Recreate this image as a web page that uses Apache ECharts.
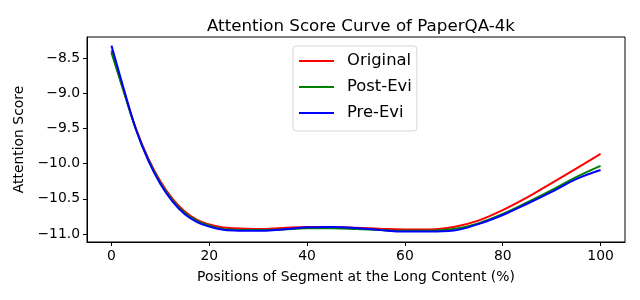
<!DOCTYPE html>
<html>
<head>
<meta charset="utf-8">
<script src="https://cdn.jsdelivr.net/npm/echarts@6/dist/echarts.min.js"></script>
<style>html,body{margin:0;padding:0;background:#fff}#c{width:640px;height:300px}</style>
</head>
<body>
<div id="c"></div>
<script>
const xPositions = [0,2.5,5,7.5,10,12.5,15,17.5,20,22.5,25,30,35,40,45,50,55,60,65,70,75,80,85,90,95,100];
const original = [-8.39,-8.96,-9.50,-9.92,-10.25,-10.50,-10.68,-10.80,-10.865,-10.905,-10.92,-10.93,-10.915,-10.90,-10.90,-10.91,-10.925,-10.935,-10.935,-10.90,-10.81,-10.66,-10.48,-10.275,-10.07,-9.86];
const postEvi  = [-8.42,-8.97,-9.51,-9.94,-10.27,-10.52,-10.70,-10.815,-10.88,-10.925,-10.94,-10.945,-10.935,-10.92,-10.92,-10.93,-10.945,-10.955,-10.955,-10.93,-10.85,-10.715,-10.55,-10.375,-10.19,-10.03];
const preEvi   = [-8.32,-8.93,-9.51,-9.95,-10.29,-10.54,-10.72,-10.83,-10.895,-10.935,-10.95,-10.955,-10.935,-10.905,-10.90,-10.915,-10.945,-10.965,-10.965,-10.95,-10.86,-10.73,-10.57,-10.40,-10.22,-10.09];
const xTicks = [0,20,40,60,80,100];
const yTicks = [-11.0,-10.5,-10.0,-9.5,-9.0,-8.5];

const FONT = 'DejaVu Sans';
const pair = arr => xPositions.map((x,i)=>[x,arr[i]]);
const chart = echarts.init(document.getElementById('c'), null, {renderer:'canvas'});
chart.setOption({
  animation:false,
  backgroundColor:'#fff',
  title:{text:'Attention Score Curve of PaperQA-4k', left:356, top:13, textAlign:'center',
    textStyle:{fontFamily:FONT,fontSize:16.7,fontWeight:'normal',color:'#000'}},
  legend:{orient:'vertical', left:293, top:46, icon:'rect', itemWidth:35, itemHeight:2, itemGap:6,
    padding:[5,5,8,6], borderColor:'#d6d6d6', borderWidth:1, borderRadius:3, backgroundColor:'rgba(255,255,255,0.8)',
    textStyle:{fontFamily:FONT,fontSize:16.4,color:'#000',lineHeight:20,padding:[0,0,0,8]},
    data:['Original','Post-Evi','Pre-Evi']},
  grid:{left:87,right:15,top:37,bottom:58,show:true,borderColor:'#000',borderWidth:1,backgroundColor:'transparent'},
  xAxis:{type:'value',min:-5,max:105,
    name:'Positions of Segment at the Long Content (%)',nameLocation:'middle',nameGap:28,
    nameTextStyle:{fontFamily:FONT,fontSize:13.9,color:'#000'},
    axisLine:{show:true,onZero:false,lineStyle:{color:'#000',width:1}},
    axisTick:{show:true,length:4,customValues:xTicks,lineStyle:{color:'#000'}},
    axisLabel:{customValues:xTicks,margin:7,fontFamily:FONT,fontSize:13.9,color:'#000',formatter:v=>String(v)},
    splitLine:{show:false}},
  yAxis:{type:'value',min:-11.114,max:-8.197,
    name:'Attention Score',nameLocation:'middle',nameGap:58,nameRotate:90,
    nameTextStyle:{fontFamily:FONT,fontSize:13.9,color:'#000'},
    axisLine:{show:true,onZero:false,lineStyle:{color:'#000',width:1}},
    axisTick:{show:true,length:4,customValues:yTicks,lineStyle:{color:'#000'}},
    axisLabel:{customValues:yTicks,margin:7,fontFamily:FONT,fontSize:13.9,color:'#000',
      formatter:v=>v.toFixed(1).replace('-','\u2212')},
    splitLine:{show:false}},
  series:[
    {name:'Original',type:'line',data:pair(original),smooth:0.4,symbol:'none',color:'#ff0000',lineStyle:{width:2,color:'#ff0000'}},
    {name:'Post-Evi',type:'line',data:pair(postEvi),smooth:0.4,symbol:'none',color:'#008000',lineStyle:{width:2,color:'#008000'}},
    {name:'Pre-Evi',type:'line',data:pair(preEvi),smooth:0.4,symbol:'none',color:'#0000ff',lineStyle:{width:2,color:'#0000ff'}}
  ]
});
</script>
</body>
</html>
